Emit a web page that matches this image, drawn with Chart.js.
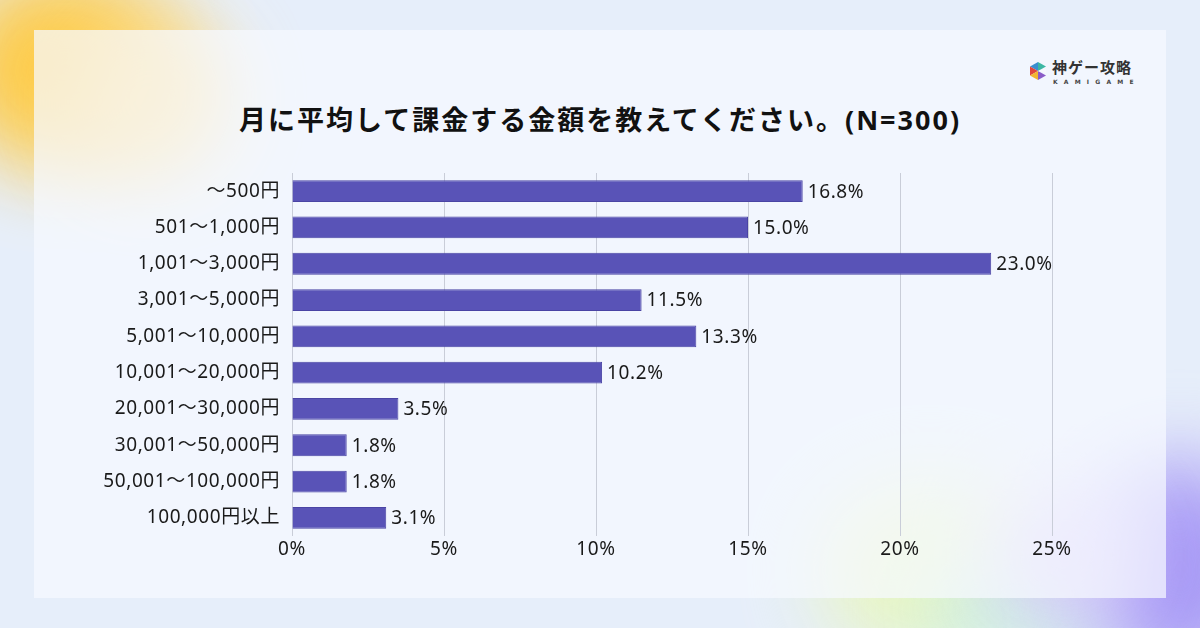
<!DOCTYPE html>
<html><head><meta charset="utf-8">
<script src="https://cdn.jsdelivr.net/npm/chart.js@4.4.1/dist/chart.umd.min.js"></script>
<style>
html,body{margin:0;padding:0;width:1200px;height:628px;overflow:hidden;background:#e6eefa;font-family:"Noto Sans","Noto Sans CJK JP",sans-serif;}
#bg{position:absolute;left:0;top:0;width:1200px;height:628px;overflow:hidden;}
.blob{position:absolute;border-radius:50%;filter:blur(40px);}
#panel{position:absolute;left:34px;top:30px;width:1132px;height:568px;background:rgba(247,249,255,0.72);}
#title{position:absolute;left:0;top:99px;width:1200px;text-align:center;font-size:27px;font-weight:700;color:#111;letter-spacing:2px;font-family:"Noto Sans","Noto Sans CJK JP",sans-serif;}
#logo{position:absolute;left:1028px;top:58px;}
#logo .t1{position:absolute;left:24px;top:-2px;font-size:15px;font-weight:700;color:#333;white-space:nowrap;letter-spacing:1px;font-family:"Noto Sans CJK JP";}
#logo .t2{position:absolute;left:25px;top:20px;font-size:6px;color:#444;white-space:nowrap;letter-spacing:6.2px;font-family:"DejaVu Sans";font-weight:700;}
canvas{position:absolute;left:0;top:0;}
</style></head><body>
<div id="bg">
  <div class="blob" style="left:-50px;top:-30px;width:230px;height:200px;background:#ffc93c;opacity:0.95"></div>
  <div class="blob" style="left:70px;top:20px;width:160px;height:160px;background:#ffdc85;opacity:0.8"></div>
  <div class="blob" style="left:820px;top:480px;width:220px;height:180px;background:#eaf7bd;opacity:0.95"></div>
  <div class="blob" style="left:920px;top:560px;width:200px;height:100px;background:#c8f0e6;opacity:0.9"></div>
  <div class="blob" style="left:1090px;top:460px;width:180px;height:220px;background:#a698f5;opacity:1"></div>
  <div class="blob" style="left:990px;top:490px;width:150px;height:130px;background:#d8c8fb;opacity:0.9"></div>
</div>
<div id="panel"></div>
<div id="title">月に平均して課金する金額を教えてください。(N=300)</div>
<div id="logo">
  <svg width="20" height="20" viewBox="0 0 20 20" style="position:absolute;left:0;top:3px">
    <polygon points="10,1 18,5.5 10,10" fill="#3cb7a4"/>
    <polygon points="10,1 2,5.5 10,10" fill="#3a8fd0"/>
    <polygon points="2,5.5 2,14.5 10,10" fill="#e0463c"/>
    <polygon points="2,14.5 10,19 10,10" fill="#f2b630"/>
    <polygon points="10,19 18,14.5 10,10" fill="#8a5cc8"/>
    <polygon points="10,10 18,8 18,12" fill="#f6f8fe"/>
  </svg>
  <div class="t1">神ゲー攻略</div>
  <div class="t2">KAMIGAME</div>
</div>
<canvas id="c" width="1200" height="628"></canvas>
<script>
const categories = ["～500円","501～1,000円","1,001～3,000円","3,001～5,000円","5,001～10,000円","10,001～20,000円","20,001～30,000円","30,001～50,000円","50,001～100,000円","100,000円以上"];
const percentages = [16.8, 15.0, 23.0, 11.5, 13.3, 10.2, 3.5, 1.8, 1.8, 3.1];
const xTicks = [0, 5, 10, 15, 20, 25];

const FONT = '"Noto Sans", "Noto Sans CJK JP", sans-serif';

const spacing = {
  id: 'spacing',
  beforeDraw(chart) { chart.ctx.letterSpacing = '0.6px'; }
};

const valueLabels = {
  id: 'valueLabels',
  afterDatasetsDraw(chart) {
    const ctx = chart.ctx;
    const meta = chart.getDatasetMeta(0);
    ctx.save();
    ctx.letterSpacing = '0.6px';
    ctx.font = '19px ' + FONT;
    ctx.fillStyle = '#1a1a1a';
    ctx.textAlign = 'left';
    ctx.textBaseline = 'middle';
    meta.data.forEach((bar, i) => {
      ctx.fillText(percentages[i].toFixed(1) + '%', bar.x + 5, bar.y + 1);
    });
    ctx.restore();
  }
};

Chart.defaults.font.family = FONT;
new Chart(document.getElementById('c'), {
  type: 'bar',
  data: {
    labels: categories,
    datasets: [{
      data: percentages,
      backgroundColor: '#5953b7',
      borderColor: '#4a44a4',
      borderWidth: 1,
      barPercentage: 0.6,
      categoryPercentage: 1.0
    }]
  },
  options: {
    indexAxis: 'y',
    responsive: false,
    animation: false,
    layout: { padding: { left: 34, right: 148, top: 173, bottom: 62 } },
    plugins: { legend: { display: false }, tooltip: { enabled: false } },
    scales: {
      x: {
        min: 0, max: 25,
        afterBuildTicks(scale) { scale.ticks = xTicks.map(v => ({ value: v })); },
        afterFit(scale) { scale.height = 30; },
        grid: { color: '#c9cdd8', lineWidth: 1, drawTicks: false },
        border: { display: false },
        ticks: { padding: 2, color: '#1a1a1a', font: { size: 19 }, callback: v => v + '%' }
      },
      y: {
        afterFit(scale) { scale.width = 258; },
        grid: { display: false, drawTicks: false },
        border: { display: false },
        ticks: { padding: 12, color: '#1a1a1a', font: { size: 19 } }
      }
    }
  },
  plugins: [spacing, valueLabels]
});
</script>
</body></html>
